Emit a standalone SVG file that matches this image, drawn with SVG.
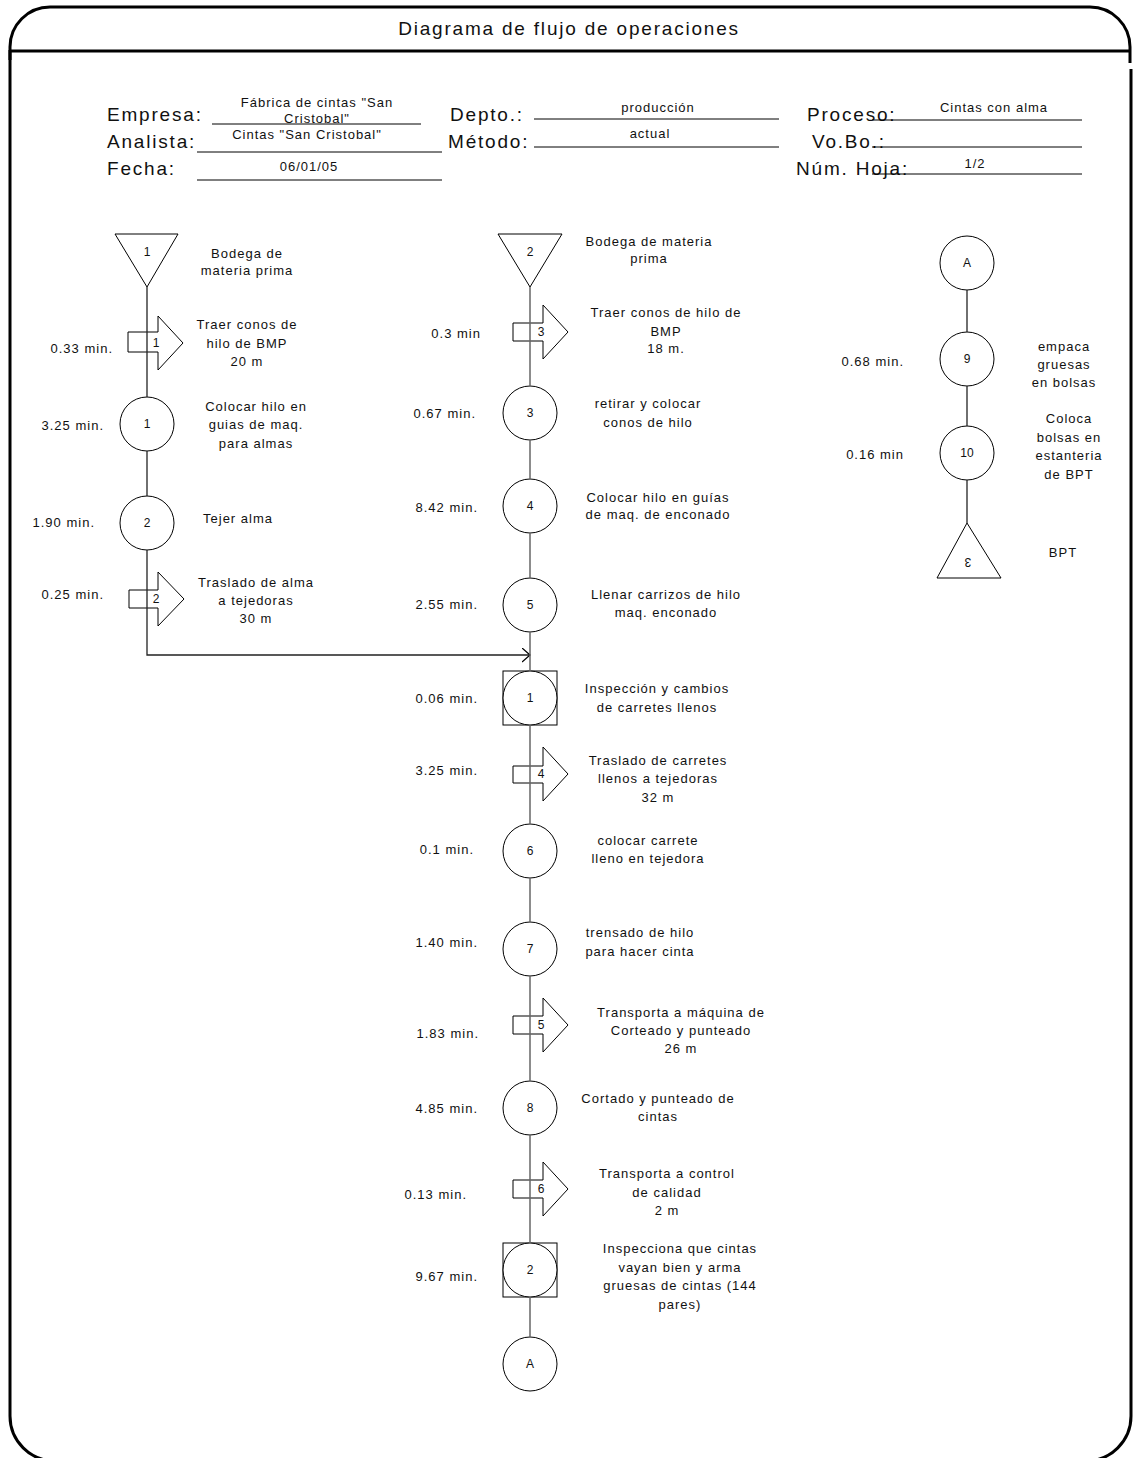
<svg xmlns="http://www.w3.org/2000/svg" width="1135" height="1458" viewBox="0 0 1135 1458">
<style>
.frame{fill:none;stroke:#000;stroke-width:3}
.shape{fill:#fff;stroke:#000;stroke-width:1}
.conn{fill:none;stroke:#222;stroke-width:1.3}
.connm{fill:none;stroke:#666;stroke-width:1.5}
.hl{stroke:#000;stroke-width:1}
text{font-family:"Liberation Sans",Arial,sans-serif;fill:#111}
.t{font-size:13px;letter-spacing:1px}
.c{text-anchor:middle}
.e{text-anchor:end}
.n{font-size:12px;text-anchor:middle}
.h{font-size:19px;letter-spacing:1.8px}
</style>
<defs>
<marker id="open" markerWidth="10" markerHeight="16" refX="8" refY="7" orient="auto" markerUnits="userSpaceOnUse">
<path d="M0,0 L8,7 L0,14" fill="none" stroke="#000" stroke-width="1.3"/>
</marker>
</defs>
<rect width="1135" height="1458" fill="#fff"/>
<g id="frame">
<path class="frame" d="M10,60 V47 A40,40 0 0 1 50,7 H1090 A40,40 0 0 1 1130,47 V63"/>
<path class="frame" d="M10,51 H1130"/>
<path class="frame" d="M1131,69 V1416 A45,45 0 0 1 1086,1461 H55 A45,45 0 0 1 10,1416 V50"/>
<text class="h" x="569" y="35" text-anchor="middle">Diagrama de flujo de operaciones</text>
</g>
<g id="header">
<text class="h" x="107" y="121">Empresa:</text>
<text class="h" x="107" y="148">Analista:</text>
<text class="h" x="107" y="175">Fecha:</text>
<text class="h" x="450" y="121">Depto.:</text>
<text class="h" x="448" y="148">Método:</text>
<text class="h" x="807" y="121">Proceso:</text>
<text class="h" x="812" y="148">Vo.Bo.:</text>
<text class="h" x="796" y="175">Núm. Hoja:</text>
<line class="hl" x1="212" y1="124" x2="421" y2="124"/>
<line class="hl" x1="197" y1="152" x2="442" y2="152"/>
<line class="hl" x1="197" y1="180" x2="442" y2="180"/>
<line class="hl" x1="534" y1="119" x2="779" y2="119"/>
<line class="hl" x1="534" y1="147" x2="779" y2="147"/>
<line class="hl" x1="872" y1="120" x2="1082" y2="120"/>
<line class="hl" x1="872" y1="147" x2="1082" y2="147"/>
<line class="hl" x1="872" y1="174" x2="1082" y2="174"/>
<text class="t c" x="317" y="107">Fábrica de cintas "San</text>
<text class="t c" x="317" y="123">Cristobal"</text>
<text class="t c" x="307" y="139">Cintas "San Cristobal"</text>
<text class="t c" x="309" y="171">06/01/05</text>
<text class="t c" x="658" y="112">producción</text>
<text class="t c" x="650" y="138">actual</text>
<text class="t c" x="994" y="112">Cintas con alma</text>
<text class="t c" x="975" y="168">1/2</text>
</g>
<g id="store1">
<polygon class="shape" points="115,234 178,234 147,287"/>
<text class="n" x="147" y="256">1</text>
<text class="t c" x="247" y="258">Bodega de</text>
<text class="t c" x="247" y="275">materia prima</text>
</g>
<g id="trans1">
<path class="shape" d="M128,332 H158 V316 L183,343 L158,370 V352 H128 Z"/>
<text class="n" x="156" y="347">1</text>
<text class="t e" x="113" y="353">0.33 min.</text>
<text class="t c" x="247" y="329">Traer conos de</text>
<text class="t c" x="247" y="348">hilo de BMP</text>
<text class="t c" x="247" y="366">20 m</text>
</g>
<g id="op1">
<circle class="shape" cx="147" cy="424" r="27"/>
<text class="n" x="147" y="428">1</text>
<text class="t e" x="104" y="430">3.25 min.</text>
<text class="t c" x="256" y="411">Colocar hilo en</text>
<text class="t c" x="256" y="429">guias de maq.</text>
<text class="t c" x="256" y="448">para almas</text>
</g>
<g id="op2">
<circle class="shape" cx="147" cy="523" r="27"/>
<text class="n" x="147" y="527">2</text>
<text class="t e" x="95" y="527">1.90 min.</text>
<text class="t c" x="238" y="523">Tejer alma</text>
</g>
<g id="trans2">
<path class="shape" d="M129,590 H158 V572 L184,599 L158,626 V608 H129 Z"/>
<text class="n" x="156" y="603">2</text>
<text class="t e" x="104" y="599">0.25 min.</text>
<text class="t c" x="256" y="587">Traslado de alma</text>
<text class="t c" x="256" y="605">a tejedoras</text>
<text class="t c" x="256" y="623">30 m</text>
</g>
<g id="store2">
<polygon class="shape" points="498,234 562,234 530,287"/>
<text class="n" x="530" y="256">2</text>
<text class="t c" x="649" y="246">Bodega de materia</text>
<text class="t c" x="649" y="263">prima</text>
</g>
<g id="trans3">
<path class="shape" d="M513,323 H543 V305 L568,332 L543,359 V341 H513 Z"/>
<text class="n" x="541" y="336">3</text>
<text class="t e" x="481" y="338">0.3 min</text>
<text class="t c" x="666" y="317">Traer conos de hilo de</text>
<text class="t c" x="666" y="336">BMP</text>
<text class="t c" x="666" y="353">18 m.</text>
</g>
<g id="op3">
<circle class="shape" cx="530" cy="413" r="27"/>
<text class="n" x="530" y="417">3</text>
<text class="t e" x="476" y="418">0.67 min.</text>
<text class="t c" x="648" y="408">retirar y colocar</text>
<text class="t c" x="648" y="427">conos de hilo</text>
</g>
<g id="op4">
<circle class="shape" cx="530" cy="506" r="27"/>
<text class="n" x="530" y="510">4</text>
<text class="t e" x="478" y="512">8.42 min.</text>
<text class="t c" x="658" y="502">Colocar hilo en guías</text>
<text class="t c" x="658" y="519">de maq. de enconado</text>
</g>
<g id="op5">
<circle class="shape" cx="530" cy="605" r="27"/>
<text class="n" x="530" y="609">5</text>
<text class="t e" x="478" y="609">2.55 min.</text>
<text class="t c" x="666" y="599">Llenar carrizos de hilo</text>
<text class="t c" x="666" y="617">maq. enconado</text>
</g>
<g id="insp1">
<rect class="shape" x="503" y="671" width="54" height="54"/>
<circle class="shape" cx="530" cy="698" r="27"/>
<text class="n" x="530" y="702">1</text>
<text class="t e" x="478" y="703">0.06 min.</text>
<text class="t c" x="657" y="693">Inspección y cambios</text>
<text class="t c" x="657" y="712">de carretes llenos</text>
</g>
<g id="trans4">
<path class="shape" d="M513,766 H543 V747 L568,774 L543,801 V783 H513 Z"/>
<text class="n" x="541" y="778">4</text>
<text class="t e" x="478" y="775">3.25 min.</text>
<text class="t c" x="658" y="765">Traslado de carretes</text>
<text class="t c" x="658" y="783">llenos a tejedoras</text>
<text class="t c" x="658" y="802">32 m</text>
</g>
<g id="op6">
<circle class="shape" cx="530" cy="851" r="27"/>
<text class="n" x="530" y="855">6</text>
<text class="t e" x="474" y="854">0.1 min.</text>
<text class="t c" x="648" y="845">colocar carrete</text>
<text class="t c" x="648" y="863">lleno en tejedora</text>
</g>
<g id="op7">
<circle class="shape" cx="530" cy="949" r="27"/>
<text class="n" x="530" y="953">7</text>
<text class="t e" x="478" y="947">1.40 min.</text>
<text class="t c" x="640" y="937">trensado de hilo</text>
<text class="t c" x="640" y="956">para hacer cinta</text>
</g>
<g id="trans5">
<path class="shape" d="M513,1016 H543 V998 L568,1025 L543,1052 V1034 H513 Z"/>
<text class="n" x="541" y="1029">5</text>
<text class="t e" x="479" y="1038">1.83 min.</text>
<text class="t c" x="681" y="1017">Transporta a máquina de</text>
<text class="t c" x="681" y="1035">Corteado y punteado</text>
<text class="t c" x="681" y="1053">26 m</text>
</g>
<g id="op8">
<circle class="shape" cx="530" cy="1108" r="27"/>
<text class="n" x="530" y="1112">8</text>
<text class="t e" x="478" y="1113">4.85 min.</text>
<text class="t c" x="658" y="1103">Cortado y punteado de</text>
<text class="t c" x="658" y="1121">cintas</text>
</g>
<g id="trans6">
<path class="shape" d="M513,1180 H543 V1162 L568,1189 L543,1216 V1198 H513 Z"/>
<text class="n" x="541" y="1193">6</text>
<text class="t e" x="467" y="1199">0.13 min.</text>
<text class="t c" x="667" y="1178">Transporta a control</text>
<text class="t c" x="667" y="1197">de calidad</text>
<text class="t c" x="667" y="1215">2 m</text>
</g>
<g id="insp2">
<rect class="shape" x="503" y="1243" width="54" height="54"/>
<circle class="shape" cx="530" cy="1270" r="27"/>
<text class="n" x="530" y="1274">2</text>
<text class="t e" x="478" y="1281">9.67 min.</text>
<text class="t c" x="680" y="1253">Inspecciona que cintas</text>
<text class="t c" x="680" y="1272">vayan bien y arma</text>
<text class="t c" x="680" y="1290">gruesas de cintas (144</text>
<text class="t c" x="680" y="1309">pares)</text>
</g>
<g id="connA1">
<circle class="shape" cx="530" cy="1364" r="27"/>
<text class="n" x="530" y="1368">A</text>
</g>
<g id="connA2">
<circle class="shape" cx="967" cy="263" r="27"/>
<text class="n" x="967" y="267">A</text>
</g>
<g id="op9">
<circle class="shape" cx="967" cy="359" r="27"/>
<text class="n" x="967" y="363">9</text>
<text class="t e" x="904" y="366">0.68 min.</text>
<text class="t c" x="1064" y="351">empaca</text>
<text class="t c" x="1064" y="369">gruesas</text>
<text class="t c" x="1064" y="387">en bolsas</text>
</g>
<g id="op10">
<circle class="shape" cx="967" cy="453" r="27"/>
<text class="n" x="967" y="457">10</text>
<text class="t e" x="904" y="459">0.16 min</text>
<text class="t c" x="1069" y="423">Coloca</text>
<text class="t c" x="1069" y="441.5">bolsas en</text>
<text class="t c" x="1069" y="460">estanteria</text>
<text class="t c" x="1069" y="478.5">de BPT</text>
</g>
<g id="store3">
<polygon class="shape" points="967,523 1001,578 937,578"/>
<text class="n" x="968" y="566" transform="rotate(180 968 562)">3</text>
<text class="t c" x="1063" y="557">BPT</text>
</g>
<g id="connectors">
<line class="conn" x1="147" y1="287" x2="147" y2="397"/>
<line class="conn" x1="147" y1="451" x2="147" y2="496"/>
<polyline class="conn" points="147,550 147,655 530,655" marker-end="url(#open)"/>
<line class="connm" x1="530" y1="287" x2="530" y2="386"/>
<line class="connm" x1="530" y1="440" x2="530" y2="479"/>
<line class="connm" x1="530" y1="533" x2="530" y2="578"/>
<line class="connm" x1="530" y1="632" x2="530" y2="671"/>
<line class="connm" x1="530" y1="725" x2="530" y2="824"/>
<line class="connm" x1="530" y1="878" x2="530" y2="922"/>
<line class="connm" x1="530" y1="976" x2="530" y2="1081"/>
<line class="connm" x1="530" y1="1135" x2="530" y2="1243"/>
<line class="connm" x1="530" y1="1297" x2="530" y2="1337"/>
<line class="conn" x1="967" y1="290" x2="967" y2="332"/>
<line class="conn" x1="967" y1="386" x2="967" y2="426"/>
<line class="conn" x1="967" y1="480" x2="967" y2="523"/>
</g>
</svg>
